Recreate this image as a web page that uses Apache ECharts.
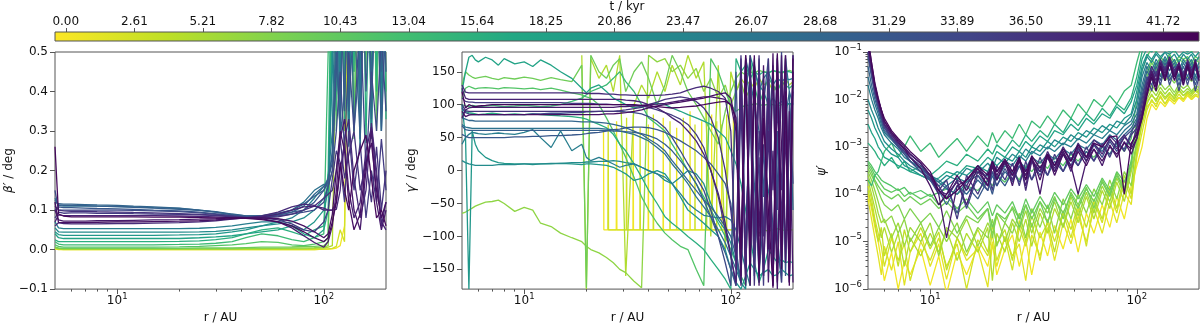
<!DOCTYPE html>
<html><head><meta charset="utf-8">
<script src="https://cdn.jsdelivr.net/npm/echarts@6/dist/echarts.min.js"></script>
<style>html,body{margin:0;padding:0;background:#fff}#c{width:1200px;height:329px}</style>
</head><body><div id="c"></div><script>
// ---------- data ----------
const betaTimes  = [0.4,2.6,4.8,7.0,9.2,11.4,13.6,15.8,18.0,20.2,22.4,24.6,26.8,29.0,30.1,31.2,33.4,35.6,36.7,37.8,38.9,40.0,41.1,42.2];
const gammaEarlyTimes = [0.4,2.6];
const gammaTimes = [4.8,7.0,9.2,11.4,13.6,15.8,18.0,20.2,22.4,24.6,26.8,29.0,30.1,31.2,33.4,35.6,36.7,37.8,38.9,40.0,41.1,42.2];
const psiTimes   = [0.4,1.5,2.6,3.7,4.8,5.9,7.0,8.1,9.2,10.3,11.4,13.6,15.8,18.0,20.2,22.4,24.6,26.8,29.0,31.2,33.4,35.6,37.8,38.9,40.0,41.1,42.2];
const cbTicks = [0.00,2.61,5.21,7.82,10.43,13.04,15.64,18.25,20.86,23.47,26.07,28.68,31.29,33.89,36.50,39.11,41.72];
const cbRange = [-0.41, 43.08];
const xMajor = [10, 100];
const xMinor = [6,7,8,9,20,30,40,50,60,70,80,90];
const psiMajor = [1e-6,1e-5,1e-4,1e-3,1e-2,1e-1];
const psiMinor = [2e-6,3e-6,4e-6,5e-6,6e-6,7e-6,8e-6,9e-6,2e-5,3e-5,4e-5,5e-5,6e-5,7e-5,8e-5,9e-5,2e-4,3e-4,4e-4,5e-4,6e-4,7e-4,8e-4,9e-4,2e-3,3e-3,4e-3,5e-3,6e-3,7e-3,8e-3,9e-3,2e-2,3e-2,4e-2,5e-2,6e-2,7e-2,8e-2,9e-2];
const gammaTicks = [-150,-100,-50,0,50,100,150];

// radii for beta panel
const r1 = [5,5.2,5.5,6,7,8,10,12,15,20, 25,30,36,42,50,60,70,80,90,100, 105,110,115,120,126,132,140,150,160,170, 180,190,200];
// radii for gamma / psi panels
const rGrid = [5,5.2,5.4,5.6,5.8,6,6.5,7,7.5,8, 9,10,11,12,13.5,15,17,19,20,21, 23,25,27,29,31,34,37,40,44,48, 52,57,62,68,74,80,87,94,100,106, 112,118,124,130,137,144,152,160,168,176, 184,192,200];

// beta' (deg), one array per snapshot (betaTimes order)
const beta = [
[0.002,0,0,0,0,0,0,0,0,0, 0,0,0,0,0,0,0,0,0,0.001, 0.001,0.002,0.004,0.01,0.06,0.7,1.2,0.6,1.5,0.9, 1.3,0.8,1.1],
[0.003,0.001,0,0,0,0,0,0,0,0, 0,0,0,0,0,0,0,0,0,0.001, 0.002,0.003,0.008,0.05,0.02,0.9,0.8,1.4,0.7,1.2, 1.0,1.3,0.9],
[0.004,0.002,0.001,0.001,0.001,0.001,0.001,0.001,0.001,0.001, 0.001,0.001,0.001,0.001,0.001,0.002,0.002,0.002,0.003,0.004, 0.006,0.01,0.6,1.1,0.3,1.4,0.45,1.2,1.5,0.35, 1.1,1.3,0.9],
[0.005,0.003,0.002,0.002,0.002,0.002,0.002,0.002,0.002,0.002, 0.002,0.002,0.002,0.003,0.003,0.003,0.004,0.004,0.005,0.006, 0.01,0.7,1.2,0.4,1.3,1.0,0.3,0.8,1.2,0.42, 0.9,1.3,1.0],
[0.006,0.004,0.003,0.003,0.003,0.003,0.003,0.003,0.003,0.003, 0.004,0.004,0.004,0.005,0.006,0.006,0.007,0.008,0.008,0.01, 0.02,0.8,1.0,1.3,0.35,1.2,1.0,0.4,0.9,1.2, 0.3,1.1,1.3],
[0.012,0.008,0.006,0.006,0.006,0.006,0.006,0.006,0.006,0.007, 0.008,0.01,0.012,0.015,0.02,0.018,0.012,0.01,0.014,0.02, 0.03,0.9,0.3,1.3,0.4,1.2,0.28,1.3,0.45,1.2, 0.35,1.4,0.4],
[0.02,0.014,0.012,0.012,0.012,0.012,0.012,0.012,0.012,0.013, 0.014,0.016,0.02,0.03,0.04,0.035,0.025,0.02,0.03,0.04, 0.5,1.0,0.35,0.9,1.3,0.3,1.2,0.42,1.0,0.3, 1.3,0.38,1.2],
[0.025,0.02,0.02,0.02,0.02,0.02,0.02,0.02,0.02,0.021, 0.022,0.025,0.03,0.04,0.05,0.055,0.045,0.035,0.05,0.06, 0.2,0.9,0.4,1.3,0.32,1.2,0.45,1.3,0.27,1.0, 0.4,1.4,0.33],
[0.04,0.03,0.028,0.028,0.028,0.028,0.028,0.028,0.028,0.028, 0.03,0.032,0.035,0.04,0.045,0.05,0.06,0.04,0.03,0.05, 0.1,0.6,1.2,0.38,1.3,0.3,1.2,0.44,1.4,0.28, 1.2,0.36,1.3],
[0.045,0.038,0.036,0.036,0.036,0.036,0.036,0.036,0.036,0.037, 0.038,0.04,0.045,0.05,0.06,0.07,0.06,0.05,0.07,0.1, 0.15,0.5,1.0,0.3,0.9,0.42,1.1,0.26,1.2,0.38, 1.0,0.3,1.2],
[0.055,0.045,0.044,0.044,0.044,0.044,0.044,0.044,0.044,0.044, 0.045,0.046,0.05,0.055,0.06,0.065,0.07,0.08,0.1,0.13, 0.16,0.45,0.9,0.35,1.0,0.28,0.9,0.4,1.1,0.3, 1.0,0.45,1.1],
[0.07,0.055,0.053,0.053,0.053,0.053,0.053,0.053,0.053,0.053, 0.054,0.056,0.06,0.065,0.07,0.07,0.08,0.1,0.13,0.16, 0.18,0.3,0.8,0.32,0.9,0.26,1.0,0.38,1.2,0.3, 1.3,0.42,1.2],
[0.13,0.112,0.11,0.11,0.11,0.11,0.109,0.108,0.106,0.104, 0.1,0.095,0.088,0.084,0.085,0.09,0.1,0.12,0.15,0.165, 0.16,0.2,0.5,0.3,1.2,0.35,1.1,0.27,1.0,0.4, 0.9,0.3,0.8],
[0.12,0.116,0.115,0.115,0.114,0.113,0.112,0.11,0.108,0.105, 0.1,0.096,0.09,0.085,0.085,0.088,0.095,0.11,0.14,0.16, 0.17,0.25,0.6,0.28,0.4,0.9,0.3,0.5,1.2,0.33, 0.9,0.45,1.0],
[0.125,0.113,0.112,0.112,0.111,0.11,0.109,0.107,0.105,0.102, 0.099,0.095,0.089,0.085,0.086,0.092,0.1,0.115,0.135,0.15, 0.17,0.24,0.5,0.3,0.8,0.35,0.6,0.28,0.9,0.4, 0.7,0.3,0.6],
[0.1,0.108,0.106,0.106,0.105,0.104,0.103,0.102,0.1,0.098, 0.095,0.09,0.086,0.083,0.083,0.087,0.095,0.1,0.12,0.15, 0.18,0.22,0.45,0.7,0.35,0.8,0.5,0.9,0.4,0.7, 0.55,0.8,0.45],
[0.15,0.1,0.1,0.1,0.1,0.1,0.1,0.099,0.098,0.096, 0.093,0.09,0.086,0.082,0.082,0.085,0.09,0.095,0.1,0.12, 0.16,0.2,0.3,0.45,0.25,0.5,0.3,0.6,0.2,0.45, 0.3,0.55,0.35],
[0.08,0.095,0.092,0.093,0.093,0.092,0.092,0.091,0.09,0.089, 0.088,0.086,0.083,0.08,0.08,0.075,0.065,0.05,0.045,0.07, 0.1,0.18,0.25,0.22,0.12,0.3,0.15,0.27,0.08,0.2, 0.12,0.28,0.15],
[0.11,0.1,0.098,0.097,0.097,0.096,0.095,0.094,0.093,0.091, 0.089,0.087,0.084,0.081,0.08,0.083,0.09,0.1,0.11,0.13, 0.14,0.15,0.2,0.28,0.18,0.24,0.3,0.15,0.22,0.12, 0.26,0.1,0.2],
[0.06,0.068,0.066,0.065,0.065,0.065,0.066,0.066,0.067,0.068, 0.07,0.073,0.077,0.08,0.085,0.095,0.108,0.115,0.112,0.1, 0.1,0.1,0.102,0.15,0.28,0.33,0.18,0.08,0.15,0.32, 0.2,0.06,0.12],
[0.07,0.088,0.086,0.086,0.086,0.086,0.086,0.086,0.086,0.085, 0.084,0.083,0.081,0.08,0.082,0.09,0.1,0.108,0.11,0.105, 0.1,0.1,0.12,0.2,0.27,0.15,0.08,0.12,0.25,0.31, 0.18,0.07,0.05],
[0.1,0.075,0.072,0.072,0.072,0.073,0.073,0.074,0.075,0.076, 0.077,0.078,0.08,0.08,0.078,0.07,0.055,0.035,0.018,0.006, 0.02,0.06,0.15,0.28,0.33,0.22,0.1,0.05,0.2,0.3, 0.12,0.05,0.1],
[0.12,0.068,0.068,0.068,0.068,0.069,0.07,0.07,0.071,0.072, 0.073,0.075,0.078,0.08,0.08,0.078,0.072,0.06,0.045,0.03, 0.04,0.09,0.2,0.3,0.25,0.12,0.05,0.09,0.22,0.27, 0.15,0.08,0.12],
[0.26,0.09,0.085,0.083,0.083,0.083,0.083,0.083,0.082,0.082, 0.081,0.08,0.08,0.079,0.076,0.07,0.06,0.045,0.03,0.02, 0.03,0.07,0.12,0.22,0.15,0.1,0.2,0.25,0.29,0.18, 0.08,0.1,0.06]
];

// gamma' (deg): the two earliest snapshots flip between -90 and positive values
const gammaEarly0 = [[24.2,60],[24.3,-90],[27.9,-90],[28,75],[28.1,-90],[33.6,-90],[33.7,85],[33.8,-90],[39.8,-90],[39.9,70],[40,-90],[47,-90],[47.1,80],[47.2,-90],[54.6,-90],[54.7,65],[54.8,-90],[63.4,-90],[63.5,90],[63.6,-90],[72.2,-90],[72.3,75],[72.4,-90],[80.7,-90],[80.8,85],[80.9,-90],[90.3,-90],[90.4,70],[90.5,-90],[102.8,-90],[102.9,80],[103,-90]];
const gammaEarly1 = [[25.4,-90],[25.5,70],[25.6,-90],[31.2,-90],[31.3,80],[31.4,-90],[36.3,-90],[36.4,65],[36.5,-90],[42.1,-90],[42.2,85],[42.3,-90],[50.7,-90],[50.8,75],[50.9,-90],[58.8,-90],[58.9,80],[59,-90],[67,-90],[67.1,70],[67.2,-90],[76.3,-90],[76.4,90],[76.5,-90],[85.4,-90],[85.5,75],[85.6,-90],[95.4,-90],[95.5,85],[95.6,-90],[104,-90]];
// later snapshots on rGrid (gammaTimes order)
const gamma = [
[null,null,null,null,null,null,null,null,null,null, null,null,null,null,null,null,null,175,-180,170, 140,160,120,175,-160,100,130,110,150,120, 160,130,175,140,165,-100,160,-120,150,120, 140,130,135,125,140,130,135,120,130,125, 140,130,135],
[-65,-63,-60,-57,-54,-52,-48,-47,-45,-50, -62,-56,-60,-80,-85,-95,-102,-108,-115,-120, -125,-132,-140,-150,-155,-168,-178,175,165,170, 150,160,140,155,120,140,110,130,100,120, 135,110,125,-90,-95,-90,-92,-90,-88,-90, -91,-90,-90],
[130,150,145,142,140,141,143,140,138,141, 139,142,140,137,141,138,135,160,-178,175, 150,140,160,170,120,150,165,140,100,130, 175,150,120,100,80,60,40,90,120,140, 150,145,150,148,152,150,149,151,150,148, 150,152,150],
[110,125,128,126,124,125,126,125,124,126, 125,124,125,123,125,122,118,115,112,110, 100,80,60,40,20,-10,-40,-60,-80,-95, -105,-115,-120,-150,-175,170,150,120,100,90, 95,100,98,102,100,99,101,100,98,100, 102,100,99],
[100,98,97,99,98,97,98,99,98,97, 98,99,98,97,98,100,105,110,115,120, 125,130,140,150,135,120,100,80,70,60, 40,20,0,-20,-40,-60,-80,-100,-120,-140, -160,-175,170,130,100,120,140,130,120,135, 130,125,130],
[85,90,88,87,86,85,86,87,86,85, 86,85,86,85,84,83,82,80,78,75, 70,65,55,40,30,10,-10,-30,-50,-70, -80,-90,-100,-110,-120,-135,-150,-165,-180,170, 150,160,140,150,145,150,148,152,150,149, 151,150,148],
[120,150,172,175,168,165,172,168,160,170, 162,165,158,168,160,150,140,125,118,125, 130,120,110,105,100,95,98,100,102,100, 95,90,85,80,75,70,60,50,30,10, -20,-60,-100,-140,-170,-150,-120,-130,-140,-135, -140,-138,-140],
[100,50,-180,60,40,30,20,15,12,11, 10,10,9,10,10,11,10,9,10,10, 9,8,5,0,-5,-15,-12,-5,0,-5, -20,-40,-60,-70,-80,-90,-100,-120,-150,-170, -180,-160,-140,-150,-160,-155,-150,-160,-158,-150, -155,-160,-158],
[15,12,10,9,8,8,8,8,9,9, 9,10,10,10,11,11,12,12,13,13, 14,14,15,14,12,10,5,0,-5,-15, -20,-10,0,-5,-20,-50,-75,-90,-110,-140, -170,-180,175,150,130,120,100,110,100,105, 100,102,100],
[40,50,55,58,57,56,55,56,57,56, 55,58,62,50,35,60,30,40,20,15, 20,15,10,5,8,10,5,0,-5,-10, -20,-35,-50,-60,-68,-70,-72,-70,-75,-90, -120,-150,-175,160,120,140,150,130,140,135, 140,138,140],
[70,66,65,64,64,64,64,64,64,64, 64,64,64,64,64,64,64,64,64,64, 64,63,62,60,58,55,50,45,35,25, 10,-5,-20,-40,-55,-70,-90,-110,-130,-150, -170,170,140,100,60,20,-30,-80,-120,-160, 170,120,100],
[80,78,76,76,75,75,75,75,75,75, 75,75,75,75,75,75,75,74,74,74, 73,72,70,68,65,60,55,48,40,30, 15,0,-15,-30,-45,-55,-70,-85,-100,-130, -170,160,100,-20,-150,-80,60,150,-100,-170, 80,120,-60],
[68,62,61,61,61,61,61,61,61,61, 61,61,61,61,61,61,61,61,61,61, 61,61,60,60,59,58,56,53,48,40, 30,15,0,-20,-45,-70,-100,-125,-150,-175, 150,-120,100,-160,170,-40,120,-170,60,-150, 170,-90,140],
[55,52,50,50,50,50,50,50,50,50, 51,51,52,52,53,53,54,55,56,57, 58,60,62,63,65,66,66,65,62,58, 52,45,38,30,20,10,-5,-20,-50,-120, -170,120,170,-130,-40,100,170,-150,-20,150, -160,60,130],
[95,88,86,85,85,85,85,85,85,85, 85,85,86,86,87,87,88,88,89,89, 90,90,90,90,89,88,86,82,75,65, 50,30,10,-10,-30,-60,-100,-140,-175,150, -150,170,-100,130,-170,40,-120,160,-60,180, -140,100,-20],
[110,105,104,104,103,103,103,103,103,103, 103,103,103,103,103,103,102,102,102,102, 101,101,100,100,100,99,98,96,92,88, 84,78,70,55,35,0,-40,-90,-130,-175, 100,-160,170,-120,20,-175,150,-30,175,-170, 90,-100,150],
[100,91,90,90,90,90,90,90,90,90, 90,90,90,90,90,90,90,90,90,90, 90,90,90,91,92,94,96,100,104,108, 110,112,110,105,95,80,50,0,-60,-130, 175,-150,120,-175,60,-100,170,-160,100,-30, 160,-120,175],
[130,119,118,118,118,118,118,118,118,118, 118,118,118,118,118,118,118,118,117,117, 117,116,116,115,115,114,114,114,114,115, 116,118,122,126,128,125,120,110,60,-150, 170,-170,140,-120,175,-160,60,-175,170,-90, 175,-170,120],
[125,110,108,108,108,108,108,108,108,108, 108,108,108,108,108,108,108,108,108,108, 108,108,108,108,107,106,104,100,95,88, 80,72,60,45,25,0,-35,-80,-130,-170, 150,-175,175,-100,140,-160,110,-175,170,-130, 60,-170,175],
[80,92,95,96,96,96,96,96,96,96, 96,96,96,96,96,96,96,96,96,96, 96,96,96,97,97,98,99,100,101,102, 104,106,108,110,112,112,110,108,100,60, -175,175,-150,170,-100,160,-170,30,-180,175, -140,90,-170],
[90,82,84,85,85,85,85,85,85,85, 85,85,85,85,85,85,85,85,85,85, 85,86,86,87,88,90,92,95,98,100, 102,104,106,108,110,113,116,118,110,70, -160,170,-140,175,-175,120,-120,178,-170,40, 175,-160,150],
[120,95,100,98,97,98,99,100,100,100, 100,100,100,100,100,100,100,100,100,100, 100,100,100,100,100,100,99,98,97,96, 95,96,97,98,100,102,104,105,100,80, -120,175,-175,165,-160,80,-60,-178,178,-150, 120,-175,170]
];

// psi' on rGrid, one array per snapshot (psiTimes order)
const psi = [
[1e-4,5e-5,2e-5,1e-5,4e-6,1.5e-6,6e-6,1e-6,4e-6,2e-6, 7e-6,1.2e-6,5e-6,8e-7,6e-6,2e-6,8e-6,3e-6,1e-5,2e-6, 7e-6,1.4e-5,3e-6,1.1e-5,2e-6,1.6e-5,5e-6,2.2e-5,7e-6,3e-5, 6e-6,4e-5,1.5e-5,6e-5,2e-5,9e-5,3e-5,1.5e-4,4e-4,1e-3, 4e-3,8e-3,6e-3,9e-3,7e-3,1e-2,8e-3,1.1e-2,9e-3,1.2e-2, 1e-2,1.2e-2,1.1e-2],
[8e-5,3e-5,1.2e-5,5e-6,2e-6,8e-6,2.5e-6,1e-5,1.2e-6,6e-6, 1.5e-5,3e-6,9e-6,1.6e-6,1.2e-5,4e-6,7e-6,1.1e-6,9e-6,3e-6, 1.3e-5,5e-6,9e-6,1.5e-6,1.4e-5,5e-6,2e-5,4e-6,2.5e-5,9e-6, 3.5e-5,1e-5,5e-5,1.5e-5,7e-5,2.5e-5,1.1e-4,6e-5,7e-4,3e-3, 7e-3,9e-3,8e-3,1.1e-2,8e-3,1.2e-2,9e-3,1.1e-2,1e-2,1.3e-2, 1e-2,1.2e-2,1.1e-2],
[1.5e-4,8e-5,3e-5,1.5e-5,8e-6,3e-6,1.2e-5,4e-6,9e-6,1.5e-6, 1e-5,4e-6,1.2e-5,3e-6,9e-6,1e-6,1.1e-5,5e-6,1.4e-5,4e-6, 1.2e-5,2.5e-6,2e-5,8e-6,2.5e-5,4e-6,3e-5,1e-5,4e-5,1.2e-5, 5e-5,8e-6,7e-5,2.5e-5,1.2e-4,4e-5,2e-4,8e-5,6e-4,2e-3, 6e-3,1e-2,7e-3,1.2e-2,8e-3,1.1e-2,9e-3,1.3e-2,1e-2,1.4e-2, 1.1e-2,1.3e-2,1.2e-2],
[1.2e-4,6e-5,2.5e-5,1e-5,2e-5,5e-6,1.5e-5,3e-6,1.8e-5,6e-6, 2e-5,7e-6,1.6e-5,2.5e-6,1.2e-5,5e-6,1.8e-5,6e-6,2.2e-5,9e-6, 1.8e-5,4e-6,2.8e-5,1e-5,3.5e-5,1.2e-5,2.5e-5,6e-6,4.5e-5,1.8e-5, 6e-5,2e-5,8e-5,3e-5,1.5e-4,5e-5,2.5e-4,1e-4,8e-4,4e-3, 9e-3,1.2e-2,1e-2,1.4e-2,1e-2,1.3e-2,1.1e-2,1.5e-2,1.2e-2,1.4e-2, 1.2e-2,1.5e-2,1.3e-2],
[2e-4,1e-4,5e-5,2.5e-5,1.2e-5,2e-5,6e-6,1.5e-5,3e-6,1.2e-5, 5e-6,1.5e-5,6e-6,1.8e-5,4e-6,1.5e-5,6e-6,2e-5,1.5e-6,1.5e-5, 6e-6,2.5e-5,1e-5,3e-5,8e-6,4e-5,1.5e-5,5e-5,2e-5,7e-5, 2.5e-5,9e-5,3e-5,1.2e-4,5e-5,1.8e-4,7e-5,3e-4,1e-3,3e-3, 8e-3,1.3e-2,9e-3,1.5e-2,1.1e-2,1.4e-2,1e-2,1.6e-2,1.2e-2,1.5e-2, 1.3e-2,1.6e-2,1.4e-2],
[2.5e-4,1.5e-4,8e-5,4e-5,2.5e-5,3e-5,1.2e-5,2.5e-5,8e-6,2e-5, 1e-5,2.5e-5,5e-6,2e-5,1.2e-5,3e-5,8e-6,2.5e-5,1.5e-5,3.5e-5, 1e-5,3e-5,1.8e-5,4.5e-5,1.5e-5,5e-5,2.5e-5,7e-5,2e-5,9e-5, 3.5e-5,1.1e-4,4e-5,1.5e-4,7e-5,2.2e-4,1e-4,3.5e-4,1.2e-3,5e-3, 1e-2,1.6e-2,1.2e-2,1.8e-2,1.3e-2,1.7e-2,1.2e-2,1.8e-2,1.4e-2,1.7e-2, 1.4e-2,1.8e-2,1.5e-2],
[3e-4,2e-4,1.2e-4,7e-5,4e-5,2.5e-5,3.5e-5,1.5e-5,3e-5,1e-5, 2.5e-5,8e-6,2e-5,1e-5,2.5e-5,6e-6,2e-5,1.2e-5,3e-5,8e-6, 2.5e-5,1.5e-5,4e-5,1.2e-5,5e-5,2e-5,6e-5,1.5e-5,8e-5,3e-5, 1e-4,4e-5,1.3e-4,6e-5,2e-4,8e-5,3e-4,1.5e-4,1.5e-3,5e-3, 1.2e-2,2e-2,1.5e-2,2.2e-2,1.6e-2,2e-2,1.4e-2,2.1e-2,1.7e-2,2e-2, 1.5e-2,1.9e-2,1.8e-2],
[3.5e-4,2.5e-4,1.8e-4,1.2e-4,8e-5,6e-5,4.5e-5,6e-5,3e-5,5e-5, 2.5e-5,4e-5,2e-5,4.5e-5,1.5e-5,3.5e-5,2.5e-5,5e-5,1.2e-5,4e-5, 2.5e-5,5.5e-5,3e-5,6e-5,2e-5,7e-5,4e-5,9e-5,3e-5,1.1e-4, 6e-5,1.4e-4,5e-5,2e-4,1e-4,2.8e-4,1.3e-4,5e-4,2e-3,8e-3, 2e-2,3e-2,2.5e-2,3.5e-2,2.5e-2,3e-2,2.2e-2,3.2e-2,2.6e-2,3e-2, 2.4e-2,3e-2,2.8e-2],
[4e-4,3e-4,2e-4,1.5e-4,1.2e-4,1e-4,8e-5,1e-4,7e-5,9e-5, 6e-5,8e-5,5e-5,7e-5,4e-5,6e-5,3e-5,5e-5,2e-5,4e-5, 3e-5,5e-5,2e-5,6e-5,3e-5,7e-5,2.5e-5,8e-5,4e-5,1e-4, 5e-5,1.3e-4,7e-5,1.8e-4,9e-5,2.5e-4,1.2e-4,4e-4,3e-3,1e-2, 3e-2,6e-2,4e-2,7e-2,5e-2,8e-2,5e-2,7e-2,6e-2,7e-2, 5e-2,7e-2,6e-2],
[4.5e-4,3.5e-4,2.5e-4,2e-4,1.6e-4,1.3e-4,1.1e-4,1.3e-4,9e-5,1.1e-4, 8e-5,1e-4,6e-5,9e-5,5e-5,8e-5,4e-5,7e-5,3.5e-5,6e-5, 4e-5,7e-5,3e-5,8e-5,4e-5,9e-5,5e-5,1.1e-4,6e-5,1.3e-4, 8e-5,1.6e-4,9e-5,2.2e-4,1.2e-4,3e-4,1.8e-4,5e-4,4e-3,1.5e-2, 4e-2,7e-2,5e-2,8e-2,6e-2,9e-2,6e-2,8e-2,7e-2,8e-2, 6e-2,8e-2,7e-2],
[5e-4,4e-4,3e-4,2.5e-4,2e-4,1.8e-4,1.5e-4,1.2e-4,1.4e-4,1e-4, 1.2e-4,9e-5,1.1e-4,1.3e-4,1e-4,1.5e-4,1.2e-4,2e-4,1.5e-4,2.5e-4, 1.8e-4,3e-4,2e-4,4e-4,3e-4,5e-4,3.5e-4,6e-4,4e-4,7e-4, 5e-4,8e-4,6e-4,1e-3,7e-4,1.2e-3,8e-4,1.5e-3,1e-2,4e-2, 8e-2,0.12,0.1,0.13,0.11,0.12,0.1,0.13,0.11,0.12, 0.1,0.12,0.11],
[2e-4,1.5e-4,2.5e-4,3e-4,5e-4,8e-4,1.2e-3,6e-4,1e-3,1.7e-3, 8e-4,1.2e-3,6e-4,9e-4,1.5e-3,8e-4,1.7e-3,1e-3,2e-3,1.2e-3, 2.2e-3,1.5e-3,3e-3,1.8e-3,3.5e-3,2.5e-3,4.5e-3,3e-3,6e-3,4e-3, 8e-3,5e-3,1e-2,7e-3,1.2e-2,8e-3,1.5e-2,2e-2,6e-2,0.15, 0.2,0.15,0.2,0.18,0.2,0.15,0.2,0.18,0.2,0.2, 0.2,0.2,0.2],
[1.2e-3,1e-3,8e-4,6e-4,5e-4,4e-4,6e-4,3.5e-4,5e-4,3e-4, 4e-4,2.5e-4,3.5e-4,5e-4,4e-4,7e-4,5e-4,9e-4,7e-4,1.1e-3, 8e-4,1.4e-3,1e-3,1.8e-3,1.3e-3,2.2e-3,1.6e-3,3e-3,2e-3,4e-3, 2.8e-3,5e-3,3.5e-3,6.5e-3,4.5e-3,8e-3,6e-3,1.1e-2,3e-2,0.1, 0.15,0.12,0.15,0.14,0.15,0.12,0.15,0.13,0.15,0.14, 0.15,0.13,0.15],
[3e-3,2e-3,1.5e-3,1e-3,8e-4,6e-4,5e-4,4e-4,3.5e-4,3e-4, 2.5e-4,2e-4,2.2e-4,3e-4,2.5e-4,4e-4,3.5e-4,6e-4,5e-4,8e-4, 6e-4,1e-3,8e-4,1.3e-3,1e-3,1.7e-3,1.3e-3,2.2e-3,1.8e-3,3e-3, 2.2e-3,4e-3,3e-3,5e-3,4e-3,7e-3,5e-3,9e-3,2e-2,7e-2, 0.12,0.1,0.13,0.11,0.12,0.1,0.13,0.11,0.12,0.1, 0.12,0.11,0.13],
[6e-3,4e-3,2.5e-3,1.8e-3,1.3e-3,1e-3,7e-4,6e-4,4e-4,3.5e-4, 2.5e-4,2e-4,1.5e-4,2e-4,3e-4,2.5e-4,4e-4,3e-4,5e-4,4e-4, 6e-4,5e-4,8e-4,6e-4,1e-3,8e-4,1.3e-3,1e-3,1.6e-3,1.3e-3, 2e-3,1.6e-3,2.5e-3,2e-3,3e-3,2.5e-3,4e-3,5e-3,1.5e-2,5e-2, 9e-2,7e-2,0.1,8e-2,0.1,9e-2,0.11,8e-2,0.1,9e-2, 0.1,8e-2,0.1],
[1e-2,6e-3,4e-3,2.5e-3,1.8e-3,1.3e-3,9e-4,7e-4,5e-4,4e-4, 3e-4,2.2e-4,1.8e-4,2.5e-4,2e-4,3.5e-4,2.8e-4,4.5e-4,3.5e-4,6e-4, 4.5e-4,7e-4,5.5e-4,9e-4,7e-4,1.1e-3,9e-4,1.4e-3,1.1e-3,1.8e-3, 1.4e-3,2.2e-3,1.8e-3,2.8e-3,2.2e-3,3.5e-3,3e-3,4.5e-3,1e-2,4e-2, 8e-2,6e-2,9e-2,7e-2,0.1,7e-2,9e-2,6e-2,9e-2,7e-2, 9e-2,6e-2,8e-2],
[2e-2,1e-2,6e-3,4e-3,2.5e-3,1.8e-3,1.2e-3,9e-4,6e-4,5e-4, 3.5e-4,2.5e-4,2e-4,1.5e-4,2.2e-4,1.8e-4,3e-4,2.4e-4,4e-4,3e-4, 5e-4,4e-4,6.5e-4,5e-4,8e-4,6.5e-4,1e-3,8e-4,1.2e-3,1e-3, 1.5e-3,1.2e-3,1.8e-3,1.5e-3,2.2e-3,1.8e-3,2.8e-3,3.5e-3,7e-3,3e-2, 6e-2,4e-2,7e-2,5e-2,8e-2,5e-2,7e-2,4e-2,7e-2,5e-2, 7e-2,4e-2,6e-2],
[3e-2,1.5e-2,8e-3,5e-3,3e-3,2e-3,1.4e-3,1e-3,7e-4,5e-4, 3.5e-4,2.5e-4,1.8e-4,1.3e-4,1e-4,1.8e-4,2.5e-4,1.5e-4,3e-4,2e-4, 4e-4,3e-4,5e-4,3.5e-4,6e-4,4.5e-4,7e-4,5.5e-4,9e-4,7e-4, 1.1e-3,9e-4,1.4e-3,1.1e-3,1.8e-3,1.4e-3,2.2e-3,3e-3,5e-3,2e-2, 5e-2,3e-2,6e-2,4e-2,7e-2,4e-2,6e-2,3e-2,6e-2,4e-2, 6e-2,3e-2,5e-2],
[5e-2,2e-2,1e-2,6e-3,3.5e-3,2.2e-3,1.5e-3,1e-3,8e-4,5e-4, 3e-4,2e-4,1.2e-4,6e-5,1.5e-4,1e-4,2e-4,1.2e-4,2.5e-4,1.5e-4, 3e-4,2e-4,4e-4,2.5e-4,5e-4,3e-4,6e-4,4e-4,7e-4,5e-4, 9e-4,6e-4,1.1e-3,8e-4,1.4e-3,1e-3,1.8e-3,2.5e-3,4e-3,1.5e-2, 4e-2,2.5e-2,5e-2,3e-2,6e-2,3e-2,5e-2,2.5e-2,5e-2,3e-2, 5e-2,2.5e-2,4e-2],
[8e-2,3e-2,1.3e-2,7e-3,4e-3,2.5e-3,1.6e-3,1.1e-3,8e-4,6e-4, 3.5e-4,2e-4,1e-4,1.5e-4,4e-5,1.5e-4,8e-5,2e-4,1e-4,2.5e-4, 1.5e-4,3e-4,1.8e-4,3.5e-4,2e-4,4e-4,2.5e-4,5e-4,3e-4,6e-4, 4e-4,8e-4,5e-4,1e-3,7e-4,1.2e-3,9e-4,2e-3,3.5e-3,1.2e-2, 3e-2,2e-2,4e-2,2.5e-2,5e-2,2.5e-2,4e-2,2e-2,4e-2,2.5e-2, 4e-2,2e-2,3.5e-2],
[0.1,3.5e-2,1.3e-2,7e-3,4e-3,2.5e-3,1.5e-3,1e-3,7e-4,5e-4, 3e-4,2e-4,1.2e-4,8e-5,2e-4,5e-5,2.5e-4,1.2e-4,3e-4,1.5e-4, 3.5e-4,1.8e-4,4e-4,2e-4,5e-4,2.5e-4,6e-4,3e-4,7e-4,4e-4, 9e-4,5e-4,1.1e-3,6e-4,1.3e-3,8e-4,1.6e-3,2.2e-3,3e-3,1e-2, 3e-2,1.5e-2,4e-2,2e-2,5e-2,2e-2,4e-2,1.5e-2,4e-2,2e-2, 4e-2,1.5e-2,3e-2],
[0.1,4e-2,1.5e-2,8e-3,4.5e-3,2.8e-3,1.6e-3,1.1e-3,8e-4,6e-4, 4e-4,2.2e-4,1.2e-4,2e-4,3e-5,2.5e-4,1e-4,3e-4,1.2e-4,4e-4, 2e-4,4.5e-4,1.5e-4,5e-4,2e-4,6e-4,2.5e-4,7e-4,3e-4,8e-4, 4e-4,1e-3,5e-4,1.2e-3,6e-4,1.4e-3,8e-4,1.8e-3,2.5e-3,8e-3, 2.5e-2,4e-2,2e-2,5e-2,3e-2,6e-2,3e-2,5e-2,2e-2,5e-2, 3e-2,5e-2,2.5e-2],
[0.12,4.5e-2,1.6e-2,9e-3,5e-3,3e-3,1.8e-3,1.2e-3,9e-4,7e-4, 4.5e-4,2.5e-4,1.5e-4,8e-5,2e-4,1.5e-4,4e-4,2e-4,5e-4,3e-4, 5e-4,2e-4,6e-4,1.2e-4,5e-4,3e-4,8e-4,4e-4,1e-3,5e-4, 1.2e-3,6e-4,1.4e-3,1e-3,1.7e-3,1.2e-3,1.8e-3,1e-3,2.5e-3,6e-3, 2e-2,5e-2,3e-2,7e-2,4e-2,8e-2,4e-2,6e-2,3e-2,7e-2, 4e-2,6e-2,3e-2],
[0.13,5e-2,1.8e-2,9e-3,5e-3,3e-3,1.8e-3,1.2e-3,9e-4,7e-4, 4.5e-4,2.5e-4,1.2e-4,1e-4,1.8e-4,6e-5,3e-4,1.5e-4,4e-4,2e-4, 4.5e-4,2.5e-4,5e-4,1.5e-4,5.5e-4,3e-4,6e-4,3.5e-4,8e-4,3e-4, 1e-3,5e-4,1.2e-3,7e-4,1.5e-3,9e-4,1.6e-3,1.1e-3,2e-3,5e-3, 2e-2,4e-2,2.5e-2,6e-2,3.5e-2,7e-2,3.5e-2,5.5e-2,3e-2,6e-2, 3.5e-2,6e-2,3e-2],
[0.15,5e-2,2e-2,1e-2,6e-3,3.5e-3,2e-3,1.4e-3,1e-3,7e-4, 4.5e-4,2.5e-4,1e-4,1.2e-5,1.5e-4,2e-4,3.5e-4,2e-4,4.5e-4,2.5e-4, 5e-4,1.5e-4,5.5e-4,2.5e-4,6e-4,1e-4,7e-4,3e-4,8e-4,4e-4, 1e-4,5e-4,9e-4,4e-4,1.1e-3,6e-4,1.3e-3,7e-4,1.5e-3,5e-3, 1.5e-2,4e-2,2e-2,6e-2,3e-2,7e-2,3e-2,6e-2,2.5e-2,6e-2, 3e-2,7e-2,3e-2],
[0.18,6e-2,2.2e-2,1.1e-2,6e-3,3.5e-3,2e-3,1.3e-3,9e-4,6e-4, 3.5e-4,1.5e-4,6e-5,1e-4,2.5e-4,1.2e-4,3.5e-4,1.5e-4,4e-4,2e-4, 5e-4,2.5e-4,5e-4,3e-4,6e-4,2e-4,6.5e-4,2.5e-4,7e-4,3.5e-4, 8e-4,4e-4,9e-4,5e-4,1e-3,7e-4,1.2e-3,9e-4,1.5e-3,4e-3, 1.4e-2,3.5e-2,1.8e-2,5e-2,2.5e-2,6e-2,3e-2,5e-2,2.5e-2,5.5e-2, 3e-2,6e-2,2.8e-2],
[0.2,6e-2,2e-2,1e-2,6e-3,4e-3,2.2e-3,1.5e-3,1.1e-3,8e-4, 5e-4,3e-4,1.2e-4,8e-5,1.2e-4,2e-4,4e-4,2.5e-4,5e-4,3e-4, 5.5e-4,3e-4,6e-4,2e-4,6.5e-4,3.5e-4,7e-4,4e-4,9e-4,5e-4, 1.1e-3,6e-4,1.2e-3,1e-3,1.6e-3,1.7e-3,1e-4,1.2e-3,1.8e-3,4e-3, 1.2e-2,3e-2,1.5e-2,5e-2,2.5e-2,6e-2,2.5e-2,5e-2,2e-2,5e-2, 2.5e-2,6e-2,2.5e-2]
];

// ---------- styling helpers ----------
const FONT = 'DejaVu Sans';
const INK = '#111';
const SPINE = '#555';
const VIR = ['#440154','#482475','#414487','#355f8d','#2a788e','#21918c','#22a884','#44bf70','#7ad151','#bddf26','#fde725'];
function hex(c){return [parseInt(c.slice(1,3),16),parseInt(c.slice(3,5),16),parseInt(c.slice(5,7),16)];}
function viridis(x){
  x = Math.max(0, Math.min(1, x));
  const p = x*10, i = Math.min(9, Math.floor(p)), f = p - i;
  const a = hex(VIR[i]), b = hex(VIR[i+1]);
  return 'rgb(' + a.map((v,k)=>Math.round(v+(b[k]-v)*f)).join(',') + ')';
}
function tColor(t){ return viridis(1 - (t - cbRange[0])/(cbRange[1]-cbRange[0])); }
const minus = s => String(s).replace('-', '\u2212');
function powLabel(v){ const e = Math.round(Math.log10(v)); return '{b|10}{s|' + minus(e) + '}'; }
const powRich = { b:{fontFamily:FONT, fontSize:12, color:INK}, s:{fontFamily:FONT, fontSize:8.5, color:INK, padding:[0,0,9,0]} };

const gridBase = {show:true, borderColor:SPINE, borderWidth:1, backgroundColor:'transparent'};
const grids = [
  Object.assign({left:55, top:52, width:331, height:242}, gridBase),
  Object.assign({left:462, top:52, width:331, height:242}, gridBase),
  Object.assign({left:868, top:52, width:331, height:242}, gridBase),
  Object.assign({}, gridBase, {left:55, top:32, width:1144, height:9,
    backgroundColor: new echarts.graphic.LinearGradient(0,0,1,0, VIR.slice().reverse().map((c,i)=>({offset:i/10, color:c})))})
];

function xMajorAxis(g){
  return {type:'log', logBase:10, gridIndex:g, min:5, max:200, position:'bottom',
    axisLine:{show:false, onZero:false}, splitLine:{show:false},
    axisTick:{show:true, length:5, customValues:xMajor, lineStyle:{color:SPINE}},
    axisLabel:{customValues:xMajor, formatter:powLabel, rich:powRich, margin:3},
    name:'r / AU', nameLocation:'middle', nameGap:22,
    nameTextStyle:{fontFamily:FONT, fontSize:12, color:INK}};
}
function xMinorAxis(g){
  return {type:'log', logBase:10, gridIndex:g, min:5, max:200, position:'bottom',
    axisLine:{show:false, onZero:false}, splitLine:{show:false}, axisLabel:{show:false},
    axisTick:{show:true, length:2.5, customValues:xMinor, lineStyle:{color:SPINE}}};
}
const nameStyle = {fontFamily:FONT, fontSize:12, color:INK, rich:{i:{fontFamily:FONT, fontSize:12, fontStyle:'italic', color:INK}}};
const labelStyle = {fontFamily:FONT, fontSize:12, color:INK, margin:7};

const xAxes = [xMajorAxis(0), xMajorAxis(1), xMajorAxis(2), xMinorAxis(0), xMinorAxis(1), xMinorAxis(2),
  {type:'value', gridIndex:3, position:'top', min:cbRange[0], max:cbRange[1],
   axisLine:{show:false, onZero:false}, splitLine:{show:false},
   axisTick:{show:true, length:4, customValues:cbTicks, lineStyle:{color:SPINE}},
   axisLabel:{customValues:cbTicks, formatter:v=>v.toFixed(2), fontFamily:FONT, fontSize:12, color:INK, margin:4},
   name:'t / kyr', nameLocation:'middle', nameGap:19, nameTextStyle:{fontFamily:FONT, fontSize:12, color:INK}}];

const yAxes = [
  {type:'value', gridIndex:0, min:-0.1, max:0.5, interval:0.1,
   axisLine:{show:false, onZero:false}, splitLine:{show:false},
   axisTick:{show:true, length:5, lineStyle:{color:SPINE}},
   axisLabel:Object.assign({formatter:v=>minus(v.toFixed(1))}, labelStyle),
   name:'{i|\u03b2\u2032} / deg', nameLocation:'middle', nameGap:36, nameRotate:90, nameTextStyle:nameStyle},
  {type:'value', gridIndex:1, min:-180, max:180,
   axisLine:{show:false, onZero:false}, splitLine:{show:false},
   axisTick:{show:true, length:5, customValues:gammaTicks, lineStyle:{color:SPINE}},
   axisLabel:Object.assign({customValues:gammaTicks, formatter:v=>minus(v)}, labelStyle),
   name:'{i|\u03b3\u2032} / deg', nameLocation:'middle', nameGap:40, nameRotate:90, nameTextStyle:nameStyle},
  {type:'log', logBase:10, gridIndex:2, min:1e-6, max:1e-1,
   axisLine:{show:false, onZero:false}, splitLine:{show:false},
   axisTick:{show:true, length:5, customValues:psiMajor, lineStyle:{color:SPINE}},
   axisLabel:{customValues:psiMajor, formatter:powLabel, rich:powRich, margin:6},
   name:'{i|\u03c8\u2032}', nameLocation:'middle', nameGap:40, nameRotate:90, nameTextStyle:nameStyle},
  {type:'log', logBase:10, gridIndex:2, min:1e-6, max:1e-1, position:'left',
   axisLine:{show:false, onZero:false}, splitLine:{show:false}, axisLabel:{show:false},
   axisTick:{show:true, length:2.5, customValues:psiMinor, lineStyle:{color:SPINE}}},
  {type:'value', gridIndex:3, show:false, min:0, max:1}
];

function line(panel, data, t){
  return {type:'line', xAxisIndex:panel, yAxisIndex:panel, data:data, symbol:'none', showSymbol:false,
    silent:true, animation:false, clip:true, connectNulls:false, z:2,
    lineStyle:{width:1.3, color:tColor(t)}};
}
const series = [];
beta.forEach((vals,i)=>series.push(line(0, r1.map((r,j)=>[r, vals[j]]), betaTimes[i])));
series.push(line(1, gammaEarly0, gammaEarlyTimes[0]));
series.push(line(1, gammaEarly1, gammaEarlyTimes[1]));
gamma.forEach((vals,i)=>series.push(line(1, rGrid.map((r,j)=>[r, vals[j]]), gammaTimes[i])));
psi.forEach((vals,i)=>series.push(line(2, rGrid.map((r,j)=>[r, vals[j]]), psiTimes[i])));

const chart = echarts.init(document.getElementById('c'), null, {renderer:'canvas'});
chart.setOption({animation:false, backgroundColor:'#fff', textStyle:{fontFamily:FONT},
  grid:grids, xAxis:xAxes, yAxis:yAxes, series:series});
</script></body></html>
